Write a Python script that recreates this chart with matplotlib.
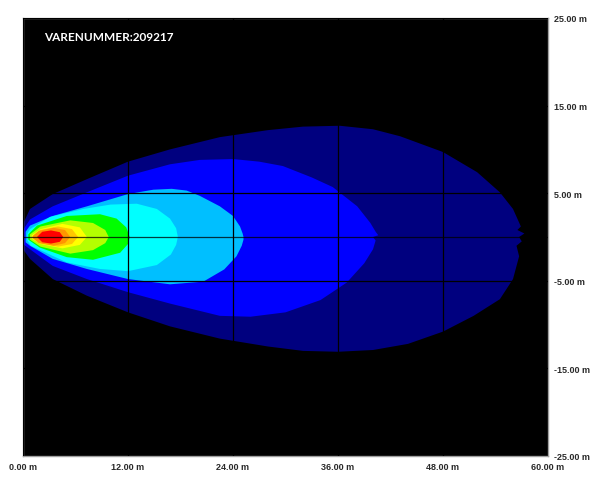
import numpy as np
import matplotlib
matplotlib.use('Agg')
import matplotlib.pyplot as plt

# isolux outlines, (distance m, lateral m)
# each level: upper edge from left to tip, lower edge from left to tip
navy_top = [(0.0, 1.5), (0.8, 3.2), (3.4, 4.9), (7.3, 6.6), (12.0, 8.6), (16.8, 10.0),
            (22.5, 11.4), (28.0, 12.2), (32.0, 12.6), (36.2, 12.7), (40.0, 12.3),
            (43.1, 11.5), (48.0, 9.7), (51.9, 7.4), (54.5, 5.1), (56.0, 3.2),
            (56.9, 1.2), (56.5, 0.8), (57.3, 0.4)]
navy_bottom = [(0.0, -1.4), (0.8, -2.5), (3.4, -4.8), (7.3, -6.7), (12.0, -8.6),
               (16.8, -10.2), (22.5, -11.6), (28.0, -12.5), (32.0, -13.0), (36.0, -13.1),
               (40.0, -12.9), (44.0, -12.2), (48.0, -10.8), (51.5, -9.0), (54.5, -7.1),
               (56.0, -4.8), (56.7, -2.2), (56.4, -1.0), (57.0, -0.5), (56.7, 0.0)]

blue_top = [(0.0, 0.8), (0.8, 2.0), (3.4, 3.5), (7.3, 5.1), (12.0, 7.0), (16.8, 8.3),
            (20.2, 8.8), (24.0, 8.9), (27.0, 8.6), (29.7, 8.1), (33.0, 6.8), (35.4, 5.7),
            (38.2, 3.5), (39.7, 1.6), (40.3, 0.6), (40.6, 0.2)]
blue_bottom = [(0.0, -0.8), (0.8, -1.4), (3.4, -3.3), (7.3, -4.8), (12.0, -6.3),
               (16.8, -7.6), (22.5, -9.0), (26.0, -9.1), (30.0, -8.6), (34.0, -7.2),
               (37.0, -5.2), (39.0, -3.0), (40.0, -1.4), (40.3, -0.4), (40.0, 0.0)]

sky_top = [(0.3, 0.6), (0.8, 1.3), (3.4, 2.4), (7.3, 3.5), (12.0, 4.9), (14.9, 5.4),
           (17.0, 5.5), (18.7, 5.3), (20.2, 4.7), (22.5, 3.5), (24.0, 2.4), (24.8, 1.2),
           (25.1, 0.4), (25.2, 0.0)]
sky_bottom = [(0.3, -0.6), (0.8, -1.0), (3.4, -2.5), (7.3, -3.65), (12.0, -4.8),
              (16.8, -5.4), (20.6, -5.1), (23.0, -3.7), (24.4, -2.2), (25.0, -1.0),
              (25.2, -0.3)]

cyan_top = [(0.5, 0.4), (0.8, 0.9), (3.1, 2.3), (6.9, 3.2), (10.0, 3.7), (13.0, 3.8),
            (15.3, 3.2), (16.8, 2.1), (17.5, 1.0), (17.7, 0.0)]
cyan_bottom = [(0.5, -0.4), (0.9, -1.0), (5.0, -2.9), (8.8, -3.65), (12.0, -3.9),
               (15.3, -3.2), (16.9, -2.0), (17.5, -0.9), (17.7, 0.0)]

green_top = [(0.6, 0.3), (1.6, 1.3), (5.0, 2.4), (8.8, 2.6), (10.7, 2.1), (11.8, 1.1),
             (12.2, 0.0)]
green_bottom = [(0.6, -0.3), (1.9, -1.2), (5.0, -2.3), (8.0, -2.6), (11.1, -1.8),
                (12.0, -0.8), (12.2, 0.0)]

lime_top = [(0.8, 0.3), (2.0, 1.2), (5.4, 1.9), (8.0, 1.6), (9.4, 0.8), (9.8, 0.0)]
lime_bottom = [(0.8, -0.3), (2.0, -1.1), (5.4, -1.9), (8.0, -1.5), (9.4, -0.7), (9.8, 0.0)]

yellow_top = [(1.0, 0.2), (2.0, 0.9), (4.5, 1.5), (6.5, 1.1), (7.3, 0.0)]
yellow_bottom = [(1.0, -0.2), (2.0, -0.8), (4.5, -1.3), (6.5, -0.9), (7.3, 0.0)]

gold_top = [(1.2, 0.2), (2.0, 0.8), (4.0, 1.2), (5.6, 0.9), (6.3, 0.0)]
gold_bottom = [(1.2, -0.2), (2.0, -0.7), (4.0, -1.1), (5.6, -0.8), (6.3, 0.0)]

orange_top = [(1.1, 0.1), (1.8, 0.7), (3.5, 1.05), (4.8, 0.8), (5.4, 0.0)]
orange_bottom = [(1.1, -0.1), (1.8, -0.7), (3.5, -1.0), (4.8, -0.7), (5.4, 0.0)]

red_top = [(1.6, 0.0), (2.2, 0.6), (3.2, 0.75), (4.2, 0.55), (4.6, 0.0)]
red_bottom = [(1.6, 0.0), (2.2, -0.6), (3.2, -0.75), (4.2, -0.55), (4.6, 0.0)]

outlines = [(navy_top, navy_bottom), (blue_top, blue_bottom), (sky_top, sky_bottom),
            (cyan_top, cyan_bottom), (green_top, green_bottom), (lime_top, lime_bottom),
            (yellow_top, yellow_bottom), (gold_top, gold_bottom),
            (orange_top, orange_bottom), (red_top, red_bottom)]
colors = ['#00007f', '#0000ff', '#00bfff', '#00ffff', '#00ff00', '#b4ff00',
          '#ffff00', '#ffc800', '#ff9600', '#ff0000']

x_ticks = [0, 12, 24, 36, 48, 60]
y_ticks = [25, 15, 5, -5, -15, -25]
title = 'VARENUMMER:209217'

fig = plt.figure(figsize=(6.0, 4.85), dpi=100)
ax = fig.add_axes([23 / 600, 28 / 485, 525 / 600, 438 / 485])
ax.set_facecolor('black')

for (top, bottom), color in zip(outlines, colors):
    pts = np.array(top + bottom[::-1])
    ax.fill(pts[:, 0], pts[:, 1], color=color, lw=0, zorder=1)

ax.set_xlim(0, 60)
ax.set_ylim(-25, 25)
ax.set_xticks(x_ticks)
ax.set_xticklabels([f'{v:.2f} m' for v in x_ticks])
ax.set_yticks(y_ticks)
ax.set_yticklabels([f'{v:.2f} m' for v in y_ticks])
ax.yaxis.tick_right()
ax.tick_params(length=0, labelsize=6.5, labelcolor='#2a2a2a')
ax.tick_params(axis='x', pad=4)
ax.tick_params(axis='y', pad=4)
for lab in ax.get_xticklabels() + ax.get_yticklabels():
    lab.set_fontweight('bold')
    lab.set_family('Liberation Sans')

ax.grid(color='black', lw=0.9, zorder=3)
ax.set_axisbelow(False)
ax.axhline(0, color='black', lw=0.9, alpha=0.75, zorder=3)
for s in ax.spines.values():
    s.set_color('#a0a0a0')
    s.set_linewidth(1)

ax.text(0.04, 0.957, title, transform=ax.transAxes, color='white',
        fontsize=8.5, fontweight='bold', family='Lato', va='center', ha='left')

fig.savefig('out.png', dpi=100, facecolor='white')
